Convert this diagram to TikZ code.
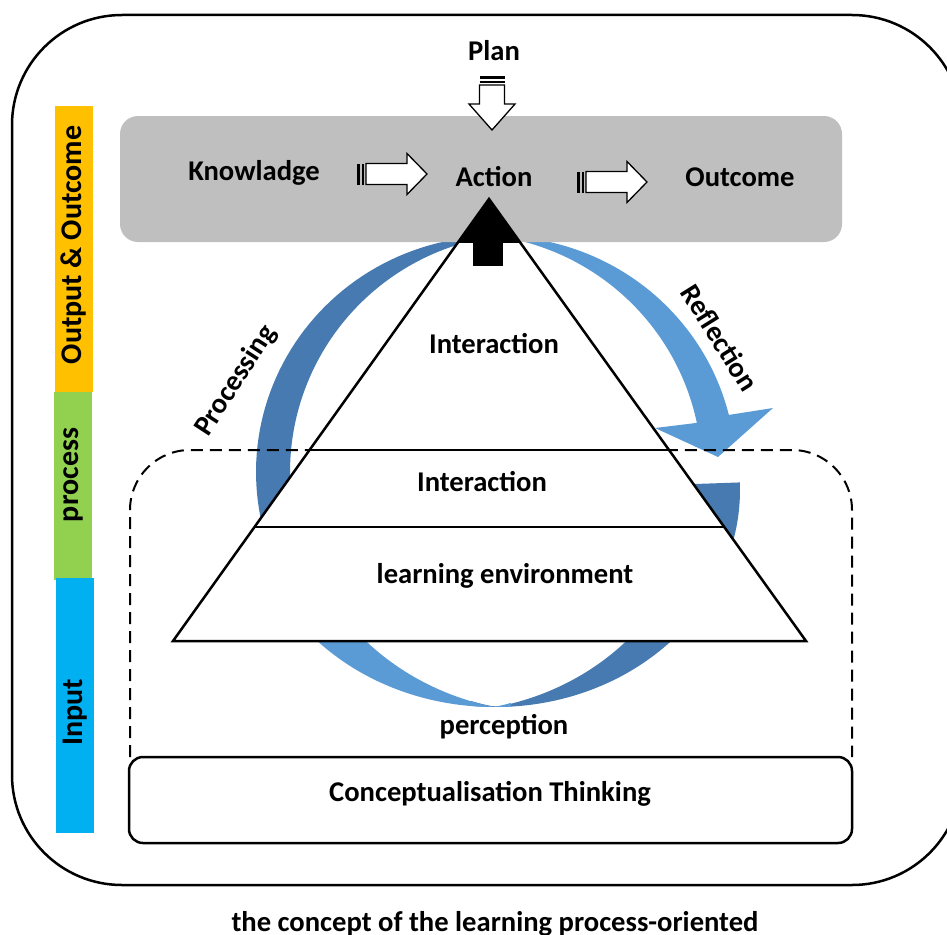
\documentclass[tikz,border=0pt]{standalone}
\usepackage{fontspec}
\setmainfont{Carlito}
\usetikzlibrary{calc}

\definecolor{bandlight}{RGB}{91,155,213}
\definecolor{banddark}{RGB}{70,122,176}
\definecolor{boxgray}{RGB}{191,191,191}
\definecolor{barorange}{RGB}{255,192,0}
\definecolor{bargreen}{RGB}{146,208,80}
\definecolor{barblue}{RGB}{0,176,240}

% striped block arrow: length, head length, shaft half width, head half width
\tikzset{
  pics/stripearrow/.style n args={4}{code={
    \fill (0,-#3) rectangle (3,#3);
    \fill (5,-#3) rectangle (7,#3);
    \draw[fill=white,line width=1.3pt] (9,-#3) -- ({#1-#2},-#3) -- ({#1-#2},-#4)
      -- (#1,0) -- ({#1-#2},#4) -- ({#1-#2},#3) -- (9,#3) -- cycle;
  }}
}

\begin{document}
\begin{tikzpicture}[x=1pt,y=-1pt,
  txt/.style={font=\fontsize{28.6}{33}\selectfont\bfseries,inner sep=0pt},
  barlabel/.style={font=\fontsize{30}{34}\selectfont\bfseries,inner sep=0pt,rotate=90},
  frame/.style={line width=2.5pt},
  dashbox/.style={line width=2pt,dash pattern=on 12pt off 7pt,rounded corners=60pt}]

\useasboundingbox (0,0) rectangle (947,934);
\clip (0,0) rectangle (947,934);

% outer frame
\draw[frame,rounded corners=110pt] (12,15) rectangle (962,885);

% stage bars on the left
\fill[barorange] (55,106) rectangle (93,392);
\fill[bargreen] (54,392) rectangle (92,580);
\fill[barblue] (56,578) rectangle (94,833);
\node[barlabel] (outlbl) at (74,245) {Output \& Outcome};
\node[barlabel] (proclbl) at (73,475) {process};
\node[barlabel] (inlbl) at (75,712) {Input};

% circular arrows (drawn first, pyramid covers them)
\fill[banddark] plot[domain=150:263,samples=60] ({496+240*cos(\x)},{472+236*sin(\x)})
  -- plot[domain=263:150,samples=60] ({496+(240-34*abs(cos(\x)))*cos(\x)},{472+(236-34*abs(cos(\x)))*sin(\x)})
  -- cycle;
\fill[bandlight] plot[domain=272:346,samples=60] ({496+240*cos(\x)},{472+236*sin(\x)})
  -- (773,408) -- (718,457) -- (655,428)
  -- plot[domain=346:272,samples=60] ({496+(240-34*abs(cos(\x)))*cos(\x)},{472+(236-34*abs(cos(\x)))*sin(\x)})
  -- cycle;
\fill[banddark] plot[domain=-2:96,samples=60] ({496+244*cos(\x)},{490+217*sin(\x)})
  -- plot[domain=96:-2,samples=60] ({496+(244-46*abs(cos(\x)))*cos(\x)},{490+(217-46*abs(cos(\x)))*sin(\x)})
  -- cycle;
\fill[bandlight] plot[domain=86:150,samples=60] ({494+246*cos(\x)},{490+217*sin(\x)})
  -- plot[domain=150:86,samples=60] ({494+(246-50*abs(cos(\x)))*cos(\x)},{490+(217-50*abs(cos(\x)))*sin(\x)})
  -- cycle;

% top band
\fill[boxgray,rounded corners=18pt] (120,116) rectangle (842,242);
\pic at (357,174) {stripearrow={70}{20}{10.5}{20.5}};
\pic at (577,182) {stripearrow={70}{20}{10.5}{20.5}};
\pic[rotate=-90] at (492,76) {stripearrow={54}{26}{12.5}{23}};

% input area
\draw[dashbox] (130,757) -- (130,450) -- (852,450) -- (852,757);

% pyramid
\coordinate (apex) at (489,199);
\coordinate (bl) at (173,641);
\coordinate (br) at (806,641);
\draw[frame,fill=white] (apex) -- (br) -- (bl) -- cycle;
\draw[frame] ($(apex)!{251/442}!(bl)$) -- ($(apex)!{251/442}!(br)$);
\draw[frame] ($(apex)!{328/442}!(bl)$) -- ($(apex)!{328/442}!(br)$);
\fill (apex) -- ($(apex)!{44/442}!(br)$) -- ($(apex)!{44/442}!(bl)$) -- cycle;
\fill (473,242) rectangle (503,266);

\draw[frame,rounded corners=14pt,fill=white] (129,757) rectangle (852,843);

% labels
\node[txt] (plan) at (494,51) {Plan};
\node[txt] (know) at (254,173) {Knowladge};
\node[txt] (action) at (494,177) {Action};
\node[txt] (outcome) at (740,177) {Outcome};
\node[txt] (inter1) at (494,344) {Interaction};
\node[txt] (inter2) at (482,482) {Interaction};
\node[txt] (env) at (505,576) {learning environment};
\node[txt] (perc) at (504,727) {perception};
\node[txt] (concept) at (490,794) {Conceptualisation Thinking};
\node[txt,rotate=57] (procg) at (236,381) {Processing};
\node[txt,rotate=-58] (refl) at (720,338) {Reflection};
\node[txt,anchor=base] (caption) at (495,931) {the concept of the learning process-oriented};

\end{tikzpicture}
\end{document}
